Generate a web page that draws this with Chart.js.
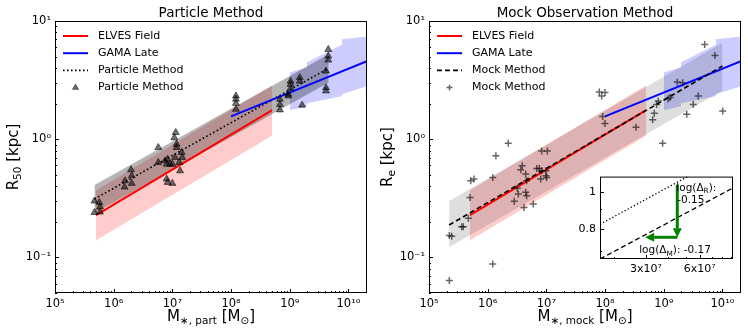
<!DOCTYPE html>
<html>
<head>
<meta charset="utf-8">
<script src="https://cdn.jsdelivr.net/npm/chart.js@4.4.1/dist/chart.umd.min.js"></script>
<style>
  html, body { margin: 0; padding: 0; background: #fff; }
  #wrap { position: relative; width: 748px; height: 334px; }
  canvas { position: absolute; }
</style>
</head>
<body>
<div id="wrap">
  <canvas id="partChart" width="374" height="334" style="left:0;top:0"></canvas>
  <canvas id="mockChart" width="374" height="334" style="left:374px;top:0"></canvas>
  <canvas id="insetChart" width="166" height="116" style="left:574px;top:166px"></canvas>
</div>
<script>
// ---- axes ----
const massRange = [1e5, 2.07e10];
const radiusRange = [0.05, 10];
const massTicks = [1e5, 1e6, 1e7, 1e8, 1e9, 1e10];
const radiusTicks = [0.1, 1, 10];

// ---- reference relations (shared by both panels) ----
const elvesLineM = [5e5, 5e8];
const elvesLineR = [0.228, 1.76];
const elvesBandM = [5e5, 5e8];
const elvesBandLo = [0.14, 1.07];
const elvesBandHi = [0.37, 2.85];

const gamaLineM = [1e8, 2.07e10];
const gamaLineR = [1.56, 4.57];
const gamaBandM = [1e9, 1.96e9, 1.97e9, 7.7e9, 7.75e9, 2.07e10];
const gamaBandLo = [1.76, 1.90, 2.01, 2.31, 2.40, 2.80];
const gamaBandHi = [3.66, 4.05, 4.47, 6.30, 7.00, 7.40];

// ---- particle method (left) ----
const partLineM = [4.7e5, 4.25e9];
const partLineR = [0.312, 3.9];
const partBandM = [4.7e5, 4.6e9];
const partBandLo = [0.236, 3.02];
const partBandHi = [0.41, 5.24];

const partMass = [4.7e5, 4.7e5, 5.7e5, 5.85e5, 5.85e5,
  1.56e6, 1.53e6, 1.97e6, 2.03e6, 2.03e6,
  5.75e6, 5.75e6, 7.5e6, 8.0e6, 8.3e6, 9.1e6, 1.0e7, 1.11e7, 1.14e7, 1.08e7,
  1.18e7, 1.18e7, 1.44e7, 1.47e7, 1.31e7, 1.35e7, 8.0e6, 8.3e6, 1.0e7,
  1.21e8, 1.21e8, 1.21e8, 1.21e8, 6.8e8, 6.8e8, 6.8e8, 9.4e8, 9.4e8,
  1.03e9, 1.03e9, 1.03e9, 1.48e9, 1.48e9, 1.62e9,
  4.14e9, 4.14e9, 4.14e9, 4.53e9, 4.53e9, 4.53e9];
const partR50 = [0.300, 0.240, 0.291, 0.267, 0.242,
  0.445, 0.394, 0.551, 0.490, 0.423,
  0.851, 0.636, 0.656, 0.615, 0.678, 0.615, 0.615, 0.701, 1.14, 1.03,
  0.907, 0.851, 0.772, 0.701, 0.636, 0.540, 0.460, 0.431, 0.423,
  2.32, 2.18, 2.01, 1.79, 2.18, 1.97, 1.77, 2.32, 2.40,
  3.10, 2.91, 2.68, 3.32, 3.10, 1.94,
  3.77, 2.73, 2.56, 5.75, 5.05, 4.67];

// ---- mock observation method (right) ----
const mockLineM = [2.2e5, 1e10];
const mockLineR = [0.188, 4.16];
const mockBandM = [2.2e5, 1e10];
const mockBandLo = [0.122, 2.58];
const mockBandHi = [0.30, 6.55];

const mockMass = [2.22e5, 2.44e5, 2.22e5, 3.61e5, 3.84e5, 4.68e5, 4.99e5, 5.13e5, 5.84e5,
  1.22e6, 1.22e6, 1.38e6, 2.24e6, 2.84e6, 3.32e6, 3.19e6, 3.65e6, 3.88e6, 4.15e6,
  4.44e6, 4.61e6, 4.44e6, 4.61e6, 5.98e6, 6.84e6, 7.57e6, 8.0e6, 8.32e6, 1.04e7,
  8.32e6, 9.84e6, 9.84e6, 1.01e7,
  7.96e7, 9.95e7, 8.75e7, 9.1e7, 9.95e7, 3.36e8, 6.47e8, 6.89e8, 8.06e8, 7.55e8, 9.57e8,
  1.19e9, 1.28e9, 1.70e9, 2.10e9, 2.46e9, 3.18e9, 3.87e9, 4.98e9, 7.45e9, 1.01e10];
const mockRe = [0.153, 0.151, 0.0637, 0.182, 0.182, 0.214, 0.322, 0.445, 0.460,
  0.475, 0.0881, 0.723, 0.925, 0.298, 0.344, 0.384, 0.551, 0.595, 0.265,
  0.355, 0.332, 0.507, 0.445, 0.283, 0.566, 0.566, 0.460, 0.796, 0.796,
  0.540, 0.540, 0.490, 0.475,
  2.51, 2.48, 2.32, 1.56, 1.36, 1.26, 1.46, 1.66, 2.10, 1.97, 0.925,
  2.20, 2.25, 3.05, 3.01, 1.63, 1.97, 2.32, 6.34, 5.11, 1.73];

// ---- inset: zoom on the offset between the two relations ----
const insetMRange = [1.66e7, 9.2e7];
const insetRRange = [0.667, 1.095];
const insetMTicks = [3e7, 6e7];
const insetMTickLabels = ['3x10⁷', '6x10⁷'];
const insetRTicks = [0.8, 1];
const insetRTickLabels = ['0.8', '1'];
const insetPartM = [1.66e7, 6e7];
const insetPartR = [0.822, 1.14];
const insetMockM = [1.66e7, 9.2e7];
const insetMockR = [0.667, 1.023];
const shiftRM = [4.49e7, 4.49e7];
const shiftRR = [1.043, 0.76];
const shiftMM = [4.49e7, 2.97e7];
const shiftMR = [0.76, 0.76];
const shiftRText = ['-0.15'];
const shiftMText = ['-0.17'];

Chart.defaults.font.family = 'DejaVu Sans';
Chart.defaults.color = '#000';

const supMap = { '-': '⁻', '0': '⁰', '1': '¹', '2': '²', '3': '³', '4': '⁴', '5': '⁵', '6': '⁶', '7': '⁷', '8': '⁸', '9': '⁹' };
function decadeLabel(v) {
  return '10' + String(Math.round(Math.log10(v))).split('').map(c => supMap[c]).join('');
}
function minorLog(min, max) {
  const out = [];
  for (let e = Math.floor(Math.log10(min)); e <= Math.ceil(Math.log10(max)); e++) {
    for (let k = 2; k <= 9; k++) {
      const v = k * Math.pow(10, e);
      if (v >= min && v <= max) out.push(v);
    }
  }
  return out;
}
function pts(xs, ys) { return xs.map((x, i) => ({ x: x, y: ys[i] })); }

// text with sub/superscripts: parts = [[text, 'n'|'sub'|'sup'], ...]
function drawRich(ctx, parts, x, y, size, align, rotate) {
  const fontFor = p => (p[1] === 'n' ? size : size * 0.7) + 'px "DejaVu Sans"';
  ctx.save();
  ctx.translate(x, y);
  if (rotate) ctx.rotate(-Math.PI / 2);
  ctx.textAlign = 'left';
  ctx.textBaseline = 'alphabetic';
  ctx.fillStyle = '#000';
  const widths = parts.map(p => { ctx.font = fontFor(p); return ctx.measureText(p[0]).width; });
  const total = widths.reduce((s, w) => s + w, 0);
  let cx = align === 'center' ? -total / 2 : (align === 'right' ? -total : 0);
  parts.forEach((p, i) => {
    ctx.font = fontFor(p);
    const dy = p[1] === 'sub' ? size * 0.22 : (p[1] === 'sup' ? -size * 0.4 : 0);
    ctx.fillText(p[0], cx, dy);
    cx += widths[i];
  });
  ctx.restore();
}

function drawArrow(ctx, x0, y0, x1, y1, color) {
  const ang = Math.atan2(y1 - y0, x1 - x0);
  const head = 9, half = 4.5;
  const bx = x1 - Math.cos(ang) * head, by = y1 - Math.sin(ang) * head;
  ctx.save();
  ctx.strokeStyle = color;
  ctx.fillStyle = color;
  ctx.lineWidth = 3;
  ctx.beginPath();
  ctx.moveTo(x0, y0);
  ctx.lineTo(bx, by);
  ctx.stroke();
  ctx.beginPath();
  ctx.moveTo(x1, y1);
  ctx.lineTo(bx - Math.sin(ang) * half, by + Math.cos(ang) * half);
  ctx.lineTo(bx + Math.sin(ang) * half, by - Math.cos(ang) * half);
  ctx.closePath();
  ctx.fill();
  ctx.restore();
}

// matplotlib-like frame, inward ticks, titles and legend
const mplPlugin = {
  id: 'mpl',
  beforeDatasetsDraw(chart, args, o) {
    if (!o.background) return;
    const a = chart.chartArea;
    chart.ctx.save();
    chart.ctx.fillStyle = o.background;
    chart.ctx.fillRect(a.left, a.top, a.right - a.left, a.bottom - a.top);
    chart.ctx.restore();
  },
  afterDatasetsDraw(chart, args, o) {
    if (o.arrows) o.arrows(chart);
  },
  afterDraw(chart, args, o) {
    const ctx = chart.ctx, a = chart.chartArea;
    const xs = chart.scales.x, ys = chart.scales.y;
    ctx.save();
    ctx.strokeStyle = '#000';
    ctx.lineWidth = 1;
    ctx.beginPath();
    const xt = (v, len) => {
      const px = Math.round(xs.getPixelForValue(v)) + 0.5;
      ctx.moveTo(px, a.bottom); ctx.lineTo(px, a.bottom - len);
    };
    const yt = (v, len) => {
      const py = Math.round(ys.getPixelForValue(v)) + 0.5;
      ctx.moveTo(a.left, py); ctx.lineTo(a.left + len, py);
    };
    xs.ticks.forEach(t => xt(t.value, o.majorLen));
    ys.ticks.forEach(t => yt(t.value, o.majorLen));
    (o.xMinor || []).forEach(v => xt(v, o.minorLen));
    (o.yMinor || []).forEach(v => yt(v, o.minorLen));
    ctx.stroke();
    ctx.strokeRect(a.left + 0.5, a.top + 0.5, a.right - a.left - 1, a.bottom - a.top - 1);

    if (o.title) {
      ctx.fillStyle = '#000';
      ctx.font = '13.5px "DejaVu Sans"';
      ctx.textAlign = 'center';
      ctx.textBaseline = 'alphabetic';
      ctx.fillText(o.title, (a.left + a.right) / 2, 16.5);
    }
    if (o.xLabel) drawRich(ctx, o.xLabel, (a.left + a.right) / 2, 321, 15, 'center', false);
    if (o.yLabel) drawRich(ctx, o.yLabel, 17.5, (a.top + a.bottom) / 2, 15, 'center', true);

    if (o.legend) {
      const x0 = a.left + 8, x1 = a.left + 33, tx = a.left + 43;
      o.legend.forEach((idx, row) => {
        const ds = chart.data.datasets[idx];
        const y = a.top + 15 + row * 17.2;
        if (ds.showLine) {
          ctx.save();
          ctx.strokeStyle = ds.borderColor;
          ctx.lineWidth = ds.borderWidth;
          ctx.setLineDash(ds.borderDash || []);
          ctx.beginPath();
          ctx.moveTo(x0, y); ctx.lineTo(x1, y);
          ctx.stroke();
          ctx.restore();
        } else {
          ctx.save();
          ctx.fillStyle = ds.backgroundColor;
          ctx.strokeStyle = ds.borderColor;
          ctx.lineWidth = ds.borderWidth;
          Chart.helpers.drawPoint(ctx, { pointStyle: ds.pointStyle, radius: ds.pointRadius * 0.85, rotation: 0, borderWidth: ds.borderWidth }, (x0 + x1) / 2, y);
          ctx.restore();
        }
        ctx.fillStyle = '#000';
        ctx.font = '11px "DejaVu Sans"';
        ctx.textAlign = 'left';
        ctx.textBaseline = 'middle';
        ctx.fillText(ds.label, tx, y);
      });
    }
    ctx.restore();
  }
};

function lineSet(label, xs, ys, color, width, dash) {
  return { label: label, data: pts(xs, ys), showLine: true, borderColor: color, borderWidth: width,
    borderDash: dash || [], pointRadius: 0, fill: false, order: 5 };
}
function bandSets(xs, lo, hi, color) {
  return [
    { data: pts(xs, hi), showLine: true, borderWidth: 0, borderColor: 'rgba(0,0,0,0)', pointRadius: 0,
      backgroundColor: color, fill: '+1', order: 10 },
    { data: pts(xs, lo), showLine: true, borderWidth: 0, borderColor: 'rgba(0,0,0,0)', pointRadius: 0,
      fill: false, order: 10 }
  ];
}

function logAxis(range, tickVals, labelFn, fit, fontSize) {
  return {
    type: 'logarithmic', min: range[0], max: range[1],
    grid: { display: false, drawTicks: false }, border: { display: false },
    ticks: { autoSkip: false, maxRotation: 0, padding: 4, color: '#000', font: { size: fontSize },
      callback: labelFn },
    afterBuildTicks: s => { s.ticks = tickVals.map(v => ({ value: v })); },
    afterFit: fit
  };
}

function makePanel(id, datasets, mpl) {
  return new Chart(document.getElementById(id), {
    type: 'scatter',
    data: { datasets: datasets },
    plugins: [mplPlugin],
    options: {
      responsive: false, animation: false, events: [],
      layout: { autoPadding: false, padding: { left: 0, top: 21, right: 7, bottom: 0 } },
      plugins: { legend: { display: false }, tooltip: { enabled: false }, mpl: mpl },
      scales: {
        x: logAxis(massRange, massTicks, v => decadeLabel(v), s => { s.height = 41; }, 11.5),
        y: logAxis(radiusRange, radiusTicks, v => decadeLabel(v), s => { s.width = 55; }, 11.5)
      }
    }
  });
}

const ELVES_FILL = 'rgba(255,0,0,0.2)';
const GAMA_FILL = 'rgba(0,0,255,0.2)';
const xMinor = minorLog(massRange[0], massRange[1]);
const yMinor = minorLog(radiusRange[0], radiusRange[1]);

// left: particle method
makePanel('partChart', [
  ...bandSets(partBandM, partBandLo, partBandHi, 'rgba(0,0,0,0.29)'),
  ...bandSets(elvesBandM, elvesBandLo, elvesBandHi, ELVES_FILL),
  ...bandSets(gamaBandM, gamaBandLo, gamaBandHi, GAMA_FILL),
  lineSet('ELVES Field', elvesLineM, elvesLineR, '#ff0000', 2),
  lineSet('GAMA Late', gamaLineM, gamaLineR, '#0000ff', 2),
  lineSet('Particle Method', partLineM, partLineR, '#000', 1.6, [1.6, 2.4]),
  { label: 'Particle Method', data: pts(partMass, partR50), showLine: false, pointStyle: 'triangle',
    pointRadius: 4, backgroundColor: 'rgba(0,0,0,0.55)', borderColor: 'rgba(0,0,0,0.55)', borderWidth: 1, order: 1 }
], {
  title: 'Particle Method', majorLen: 4, minorLen: 2, xMinor: xMinor, yMinor: yMinor,
  xLabel: [['M', 'n'], ['∗, part', 'sub'], [' [M', 'n'], ['⊙', 'sub'], [']', 'n']],
  yLabel: [['R', 'n'], ['50', 'sub'], [' [kpc]', 'n']],
  legend: [6, 7, 8, 9]
});

// right: mock observation method
makePanel('mockChart', [
  ...bandSets(mockBandM, mockBandLo, mockBandHi, 'rgba(0,0,0,0.13)'),
  ...bandSets(elvesBandM, elvesBandLo, elvesBandHi, ELVES_FILL),
  ...bandSets(gamaBandM, gamaBandLo, gamaBandHi, GAMA_FILL),
  lineSet('ELVES Field', elvesLineM, elvesLineR, '#ff0000', 2),
  lineSet('GAMA Late', gamaLineM, gamaLineR, '#0000ff', 2),
  Object.assign(lineSet('Mock Method', mockLineM, mockLineR, '#000', 1.6, [5, 3]), { order: 4 }),
  { label: 'Mock Method', data: pts(mockMass, mockRe), showLine: false, pointStyle: 'cross',
    pointRadius: 3.5, backgroundColor: 'rgba(0,0,0,0.6)', borderColor: 'rgba(0,0,0,0.6)', borderWidth: 1.5, order: 1 }
], {
  title: 'Mock Observation Method', majorLen: 4, minorLen: 2, xMinor: xMinor, yMinor: yMinor,
  xLabel: [['M', 'n'], ['∗, mock', 'sub'], [' [M', 'n'], ['⊙', 'sub'], [']', 'n']],
  yLabel: [['R', 'n'], ['e', 'sub'], [' [kpc]', 'n']],
  legend: [6, 7, 8, 9]
});

// inset
new Chart(document.getElementById('insetChart'), {
  type: 'scatter',
  data: { datasets: [
    lineSet('Particle Method', insetPartM, insetPartR, '#000', 1.3, [1.3, 2.2]),
    lineSet('Mock Method', insetMockM, insetMockR, '#000', 1.3, [5, 3])
  ] },
  plugins: [mplPlugin],
  options: {
    responsive: false, animation: false, events: [],
    layout: { autoPadding: false, padding: { left: 0, top: 7, right: 7, bottom: 0 } },
    plugins: { legend: { display: false }, tooltip: { enabled: false },
      mpl: {
        background: '#fff', majorLen: 4, minorLen: 2,
        xMinor: minorLog(insetMRange[0], insetMRange[1]).filter(v => insetMTicks.indexOf(v) < 0),
        yMinor: [0.7, 0.9],
        arrows: chart => {
          const ctx = chart.ctx, xs = chart.scales.x, ys = chart.scales.y;
          const rx = xs.getPixelForValue(shiftRM[0]);
          const ry0 = ys.getPixelForValue(shiftRR[0]), ry1 = ys.getPixelForValue(shiftRR[1]);
          const mx1 = xs.getPixelForValue(shiftMM[1]), my = ys.getPixelForValue(shiftMR[1]);
          drawArrow(ctx, rx, ry0, xs.getPixelForValue(shiftRM[1]), ry1, '#008000');
          drawArrow(ctx, xs.getPixelForValue(shiftMM[0]), ys.getPixelForValue(shiftMR[0]), mx1, my, '#008000');
          drawRich(ctx, [['log(Δ', 'n'], ['R', 'sub'], ['):', 'n']], rx - 1, ry0 + 6.5, 10.5, 'left', false);
          drawRich(ctx, [[shiftRText[0], 'n']], rx, ry0 + 18.5, 10.5, 'left', false);
          drawRich(ctx, [['log(Δ', 'n'], ['M', 'sub'], ['): ' + shiftMText[0], 'n']], mx1 - 6, my + 16, 10.5, 'left', false);
        }
      }
    },
    scales: {
      x: logAxis(insetMRange, insetMTicks, (v, i) => insetMTickLabels[i], s => { s.height = 23; }, 11),
      y: logAxis(insetRRange, insetRTicks, (v, i) => insetRTickLabels[i], s => { s.width = 26; }, 11)
    }
  }
});
</script>
</body>
</html>
